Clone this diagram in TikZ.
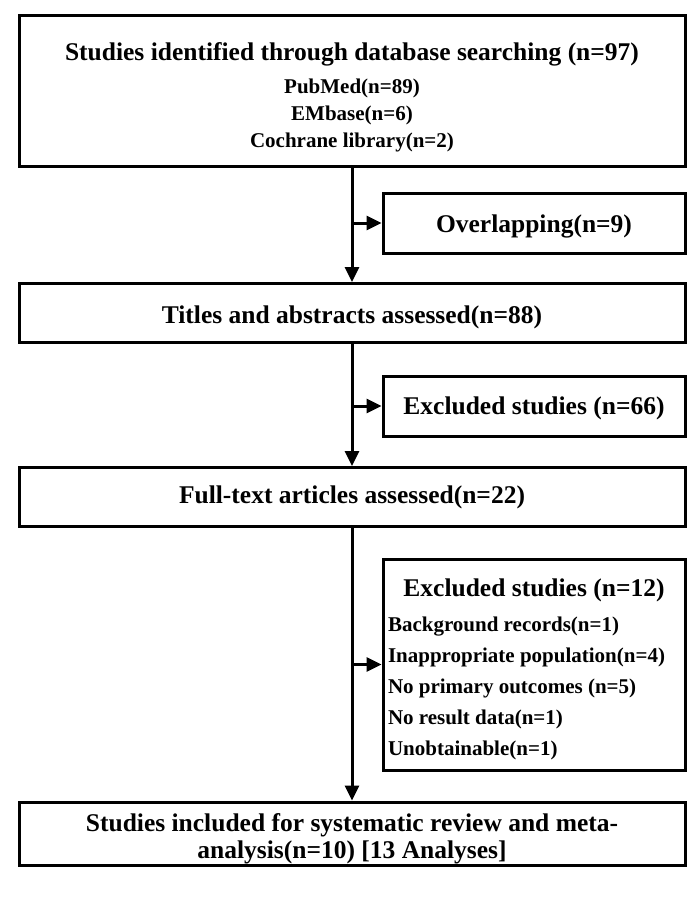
\documentclass[tikz,border=0pt]{standalone}
\usepackage{fontspec}
\setmainfont{Liberation Serif}
\usepackage{tikz}
\usetikzlibrary{arrows.meta}
\usetikzlibrary{positioning}
\newcommand{\bigtext}{\fontsize{25.5}{27}\selectfont\bfseries}
\newcommand{\smalltext}{\fontsize{21}{27}\selectfont\bfseries}
\tikzstyle{mainbox} = [draw, line width=3pt, minimum width=666pt, align=center, inner sep=0pt, font=\bigtext]
\tikzstyle{sidebox} = [draw, line width=3pt, minimum width=302pt, align=center, inner sep=0pt, font=\bigtext]
\tikzstyle{flow} = [line width=3pt, -{Triangle[length=15pt, width=14pt]}]

\begin{document}
\begin{tikzpicture}[x=1pt, y=-1pt]
            \useasboundingbox (0, 0) rectangle (700, 897);
            % Nodes
            \node[mainbox, minimum height=151pt, font=\smalltext] (search) at (352, 91) {{\bigtext\rule{0pt}{31pt}Studies identified through database searching (n=97)}\\[6pt] PubMed(n=89) \\ EMbase(n=6) \\ Cochrane library(n=2)};
            \node[sidebox, minimum height=60pt] (overlap) at (534, 223) {\rule{0pt}{25pt}Overlapping(n=9)};
            \node[mainbox, minimum height=59pt] (titles) at (352, 313) {\rule{0pt}{27pt}Titles and abstracts assessed(n=88)};
            \node[sidebox, minimum height=60pt] (excla) at (534, 406) {\rule{0pt}{23pt}Excluded studies (n=66)};
            \node[mainbox, minimum height=59pt] (fulltext) at (352, 497) {Full-text articles assessed(n=22)};
            \node[sidebox, minimum height=211pt, font=\fontsize{21}{31}\selectfont\bfseries] (exclb) at (534, 664.5) {%
                \begin{tabular}{@{}p{292pt}@{}}
                \multicolumn{1}{c}{\bigtext\rule{0pt}{32pt}Excluded studies (n=12)}\\[4pt]
                Background records(n=1)\\
                Inappropriate population(n=4)\\
                No primary outcomes (n=5)\\
                No result data(n=1)\\
                Unobtainable(n=1)
                \end{tabular}};
            \node[mainbox, minimum height=63pt] (final) at (352, 833.5) {\rule{0pt}{29pt}Studies included for systematic review and meta-\\analysis(n=10) [13 Analyses]};

            % Connecting lines
            \draw[flow] (search) -- (titles);
            \draw[flow] (titles) -- (fulltext);
            \draw[flow] (fulltext) -- (final);
            \draw[flow] (search.south |- overlap.west) -- (overlap.west);
            \draw[flow] (titles.south |- excla.west) -- (excla.west);
            \draw[flow] (fulltext.south |- exclb.west) -- (exclb.west);
        \end{tikzpicture}
\end{document}
